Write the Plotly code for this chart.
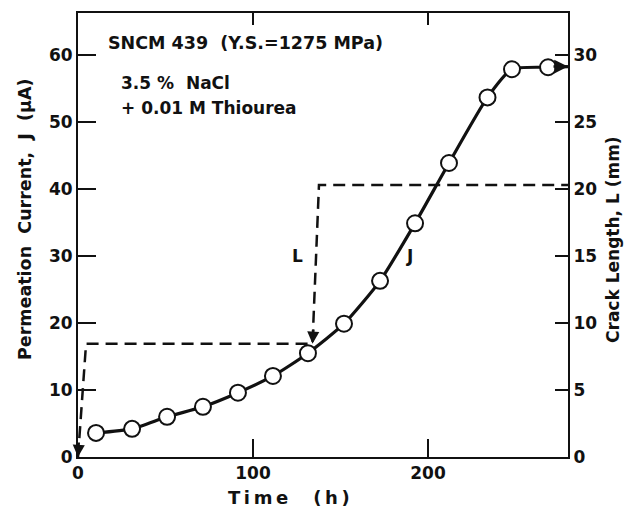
import plotly.graph_objects as go

# ---- data ----
J_time = [10.3, 30.9, 50.9, 71.4, 91.4, 111.4, 131.4, 152.0, 172.6, 192.6, 212.0, 234.0, 248.0, 268.6]
J_current = [3.6, 4.2, 6.0, 7.5, 9.6, 12.1, 15.5, 19.9, 26.3, 34.9, 43.9, 53.7, 57.9, 58.2]
J_end_time = 280
J_end_current = 58.3

L_time = [0, 4.6, 134, 137.7, 280]
L_mm = [0, 8.45, 8.45, 20.3, 20.3]

x_ticks = [0, 100, 200]
yJ_ticks = [0, 10, 20, 30, 40, 50, 60]
yL_ticks = [0, 5, 10, 15, 20, 25, 30]

FONT = "DejaVu Sans"
BLACK = "#111111"
TS = "\u2009"  # thin space for letter spacing

fig = go.Figure()

# J curve (line through the points, continuing to the right axis)
fig.add_trace(go.Scatter(
    x=J_time + [J_end_time], y=J_current + [J_end_current],
    mode="lines", line=dict(color=BLACK, width=3.2, shape="spline", smoothing=0.6),
    hoverinfo="skip", showlegend=False))
fig.add_trace(go.Scatter(
    x=J_time, y=J_current, mode="markers",
    marker=dict(size=16, color="white", line=dict(color=BLACK, width=2)),
    showlegend=False))

# L crack length (dashed, right axis)
fig.add_trace(go.Scatter(
    x=L_time, y=L_mm, yaxis="y2", mode="lines",
    line=dict(color=BLACK, width=2.5, dash="12px,7px"),
    showlegend=False))

# invisible trace to realise the top axis
fig.add_trace(go.Scatter(x=J_time, y=J_current, xaxis="x2", mode="markers",
                         marker=dict(opacity=0), hoverinfo="skip", showlegend=False))

def tfont(size):
    return dict(family=FONT, size=size, color=BLACK, weight="bold")

ann = []
# arrow at end of J
ann.append(dict(x=J_end_time, y=J_end_current, xref="x", yref="y", ax=-16, ay=0,
                showarrow=True, arrowhead=2, arrowsize=1.1, arrowwidth=2.5, arrowcolor=BLACK, text=""))
# arrow at origin (L start)
ann.append(dict(x=L_time[0], y=L_mm[0], xref="x", yref="y2", ax=1, ay=-16,
                showarrow=True, arrowhead=2, arrowsize=1.1, arrowwidth=2.2, arrowcolor=BLACK, text=""))
# arrow pointing to J at crack jump
ann.append(dict(x=L_time[2], y=L_mm[2], xref="x", yref="y2", ax=1, ay=-16,
                showarrow=True, arrowhead=2, arrowsize=1.1, arrowwidth=2.2, arrowcolor=BLACK, text=""))
# curve labels
ann.append(dict(x=125.4, y=30, xref="x", yref="y", text="L", showarrow=False, font=tfont(17)))
ann.append(dict(x=189.6, y=30, xref="x", yref="y", text="J", showarrow=False, font=tfont(17)))
# notes
ann.append(dict(x=0.0573, y=0.932, xref="paper", yref="paper", xanchor="left", yanchor="middle",
                text="SNCM 439  (Y.S.=1275 MPa)", showarrow=False, font=tfont(17.5)))
ann.append(dict(x=0.0838, y=0.842, xref="paper", yref="paper", xanchor="left", yanchor="middle",
                text="3.5 %  NaCl", showarrow=False, font=tfont(17)))
ann.append(dict(x=0.0838, y=0.786, xref="paper", yref="paper", xanchor="left", yanchor="middle",
                text="+ 0.01 M Thiourea", showarrow=False, font=tfont(17)))
# axis titles
ann.append(dict(x=0.4315, y=-0.092, xref="paper", yref="paper", xanchor="center", yanchor="middle",
                text="T" + TS + "i" + TS + "m" + TS + "e    (" + TS + "h" + TS + ")",
                showarrow=False, font=tfont(18)))
ann.append(dict(x=-0.108, y=0.534, xref="paper", yref="paper", xanchor="center", yanchor="middle",
                text="Permeation  Current,  J  (μA)", textangle=-90,
                showarrow=False, font=tfont(17.5)))
ann.append(dict(x=1.092, y=0.489, xref="paper", yref="paper", xanchor="center", yanchor="middle",
                text="Crack Length, L (mm)", textangle=-90,
                showarrow=False, font=tfont(17)))

axis_common = dict(showgrid=False, zeroline=False, showline=True, linecolor=BLACK, linewidth=2,
                   ticks="inside", tickcolor=BLACK, tickwidth=2, automargin=False,
                   tickfont=tfont(17))

# the page body adds an 8 px offset, so the figure is drawn 8 px smaller each way
fig.update_layout(
    width=625, height=503,
    margin=dict(l=70, r=65, t=5, b=54),
    paper_bgcolor="white", plot_bgcolor="white",
    xaxis=dict(range=[0, 280], tickvals=x_ticks, ticklen=18, **axis_common),
    xaxis2=dict(range=[0, 280], overlaying="x", side="top", tickvals=x_ticks[1:], ticklen=12,
                showticklabels=False, anchor="y", automargin=False,
                showgrid=False, zeroline=False, showline=True, linecolor=BLACK, linewidth=2,
                ticks="inside", tickcolor=BLACK, tickwidth=2),
    yaxis=dict(range=[0, 66.3], tickvals=yJ_ticks, ticklen=18, **axis_common),
    yaxis2=dict(range=[0, 33.15], tickvals=yL_ticks, ticklen=13, overlaying="y", side="right",
                **axis_common),
    annotations=ann,
)

fig.write_html("out.html")
